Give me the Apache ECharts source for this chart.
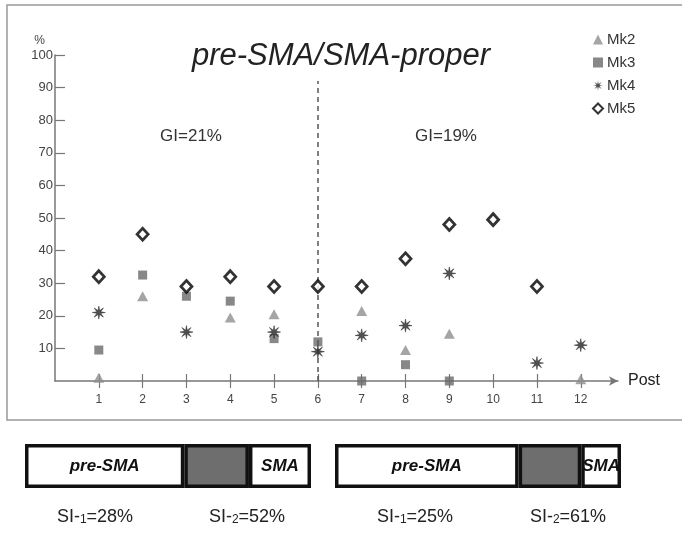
<!DOCTYPE html>
<html>
<head>
<meta charset="utf-8">
<script src="https://cdn.jsdelivr.net/npm/echarts@6/dist/echarts.min.js"></script>
<style>html,body{margin:0;padding:0;background:#fff;}#c{width:682px;height:533px;}</style>
</head>
<body>
<div id="c"></div>
<script>
// ---- data ----
const posts = [1, 2, 3, 4, 5, 6, 7, 8, 9, 10, 11, 12];
const yTicks = [10, 20, 30, 40, 50, 60, 70, 80, 90, 100];
const mk2 = [1, 26, null, 19.5, 20.5, null, 21.5, 9.5, 14.5, null, null, 0.5];
const mk3 = [9.5, 32.5, 26, 24.5, 13, 12, 0, 5, 0, null, null, null];
const mk4 = [21, null, 15, null, 15, 9, 14, 17, 33, null, 5.5, 11];
const mk5 = [32, 45, 29, 32, 29, 29, 29, 37.5, 48, 49.5, 29, null];
const dividerPost = 6;
const dividerTop = 92;
const segNames = ['pre-SMA', '', 'SMA'];
const bar1 = [55.7, 22.6, 21.7];
const bar2 = [64.2, 21.9, 13.9];
const giLabels = ['GI=21%', 'GI=19%'];
const siLabels = [['1', '28%'], ['2', '52%'], ['1', '25%'], ['2', '61%']];

const pairs = arr => posts.map((p, i) => arr[i] == null ? null : [p, arr[i]]).filter(d => d);

// asterisk symbol shape
let pts = [];
for (let i = 0; i < 16; i++) {
  const a = i * Math.PI / 8 - Math.PI / 2;
  const r = i % 2 === 0 ? 10 : 3.2;
  pts.push((10 + r * Math.cos(a)).toFixed(2) + ' ' + (10 + r * Math.sin(a)).toFixed(2));
}
const starPath = 'path://M' + pts.join(' L') + ' Z';

const FONT = '"Liberation Sans", Arial, sans-serif';
const chart = echarts.init(document.getElementById('c'), null, { renderer: 'canvas' });

function barSeries(vals, idx) {
  const colors = ['#ffffff', '#6e6e6e', '#ffffff'];
  return vals.map((v, i) => ({
    type: 'bar', xAxisIndex: idx, yAxisIndex: idx, stack: 's' + idx,
    barWidth: '100%', data: [v], silent: true,
    itemStyle: { color: colors[i], borderColor: '#111', borderWidth: 3.5 },
    label: { show: !!segNames[i], position: 'inside', formatter: segNames[i],
      fontFamily: FONT, fontStyle: 'italic', fontWeight: 'bold', fontSize: 17, color: '#111' }
  }));
}

function siText(x, lab) {
  return { type: 'text', x: x, y: 517, silent: true,
    style: { text: '{a|SI-}{b|' + lab[0] + '}{a|=' + lab[1] + '}', align: 'center', verticalAlign: 'middle',
      rich: { a: { fontSize: 18, fontFamily: FONT, fill: '#222', color: '#222' },
              b: { fontSize: 12, fontFamily: FONT, fill: '#222', color: '#222', verticalAlign: 'bottom', padding: [6, 0, 0, 0] } } } };
}

const option = {
  backgroundColor: '#fff',
  animation: false,
  title: { text: 'pre-SMA/SMA-proper', left: 'center', top: 36,
    textStyle: { fontFamily: FONT, fontStyle: 'italic', fontWeight: 'normal', fontSize: 31, color: '#222' } },
  legend: { data: ['Mk2', 'Mk3',
      { name: 'Mk4', icon: starPath, itemStyle: { borderWidth: 0 } }, 'Mk5'],
    orient: 'vertical', left: 587, top: 27,
    itemWidth: 10, itemHeight: 10, itemGap: 8,
    textStyle: { fontFamily: FONT, fontSize: 15, color: '#333', padding: [0, 0, 0, -1] } },
  grid: [
    { left: 55, top: 55, width: 563, height: 326 },
    { left: 25, top: 444, width: 286, height: 44 },
    { left: 335, top: 444, width: 286, height: 44 }
  ],
  xAxis: [
    { type: 'value', gridIndex: 0, min: 0, max: 12.85, interval: 1,
      axisLine: { show: true, symbol: ['none', 'arrow'], symbolSize: [7, 9], lineStyle: { color: '#777', width: 1.5 } },
      axisTick: { show: true, customValues: posts, length: 7, lineStyle: { color: '#777', width: 1.2 } },
      axisLabel: { customValues: posts, margin: 13, fontFamily: FONT, fontSize: 12, color: '#444' },
      splitLine: { show: false },
      name: 'Post', nameLocation: 'end', nameGap: 10,
      nameTextStyle: { fontFamily: FONT, fontSize: 16, color: '#222' } },
    { type: 'value', gridIndex: 1, min: 0, max: 100, show: false },
    { type: 'value', gridIndex: 2, min: 0, max: 100, show: false },
    { type: 'value', gridIndex: 0, min: 0, max: 12.85, interval: 1, position: 'bottom',
      axisLine: { show: false },
      axisTick: { show: true, inside: true, customValues: posts, length: 7, lineStyle: { color: '#777', width: 1.2 } },
      axisLabel: { show: false }, splitLine: { show: false } }
  ],
  yAxis: [
    { type: 'value', gridIndex: 0, min: 0, max: 100, interval: 10,
      axisLine: { show: true, lineStyle: { color: '#777', width: 1.5 } },
      axisTick: { show: true, inside: true, length: 10, customValues: yTicks, lineStyle: { color: '#777', width: 1.2 } },
      axisLabel: { customValues: yTicks, margin: 2, fontFamily: FONT, fontSize: 13, color: '#444' },
      splitLine: { show: false },
      name: '%', nameLocation: 'end', nameGap: 8,
      nameTextStyle: { fontFamily: FONT, fontSize: 12, color: '#444', align: 'right', padding: [0, 10, 0, 0] } },
    { type: 'category', gridIndex: 1, data: ['a'], show: false },
    { type: 'category', gridIndex: 2, data: ['a'], show: false }
  ],
  series: [
    { name: 'Mk2', type: 'scatter', data: pairs(mk2), symbol: 'triangle', symbolSize: [11, 10],
      itemStyle: { color: '#8e8e8e' }, z: 3 },
    { name: 'Mk3', type: 'scatter', data: pairs(mk3), symbol: 'rect', symbolSize: 9,
      itemStyle: { color: '#6a6a6a' }, z: 4 },
    { name: 'Mk4', type: 'scatter', data: pairs(mk4), symbol: starPath, symbolSize: 13,
      itemStyle: { color: '#262626', borderColor: '#262626', borderWidth: 0.6 }, z: 5 },
    { name: 'Mk5', type: 'scatter', data: pairs(mk5), symbol: 'diamond', symbolSize: [11, 12],
      itemStyle: { color: '#ffffff', borderColor: '#000', borderWidth: 2.8 }, z: 6,
      markLine: { silent: true, symbol: ['none', 'none'], label: { show: false },
        lineStyle: { color: '#555', type: [5, 4], width: 1.5 },
        data: [[{ coord: [dividerPost, 0] }, { coord: [dividerPost, dividerTop] }]] } },
    ...barSeries(bar1, 1),
    ...barSeries(bar2, 2)
  ],
  graphic: [
    { type: 'rect', silent: true, z: -10, shape: { x: 7, y: 5, width: 690, height: 415 },
      style: { fill: 'none', stroke: '#999', lineWidth: 1.5 } },
    { type: 'text', x: 191, y: 136, silent: true,
      style: { text: giLabels[0], fontFamily: FONT, fontSize: 17, fill: '#333', align: 'center', verticalAlign: 'middle' } },
    { type: 'text', x: 446, y: 136, silent: true,
      style: { text: giLabels[1], fontFamily: FONT, fontSize: 17, fill: '#333', align: 'center', verticalAlign: 'middle' } },
    siText(95, siLabels[0]), siText(247, siLabels[1]), siText(415, siLabels[2]), siText(568, siLabels[3])
  ]
};
chart.setOption(option);
</script>
</body>
</html>
